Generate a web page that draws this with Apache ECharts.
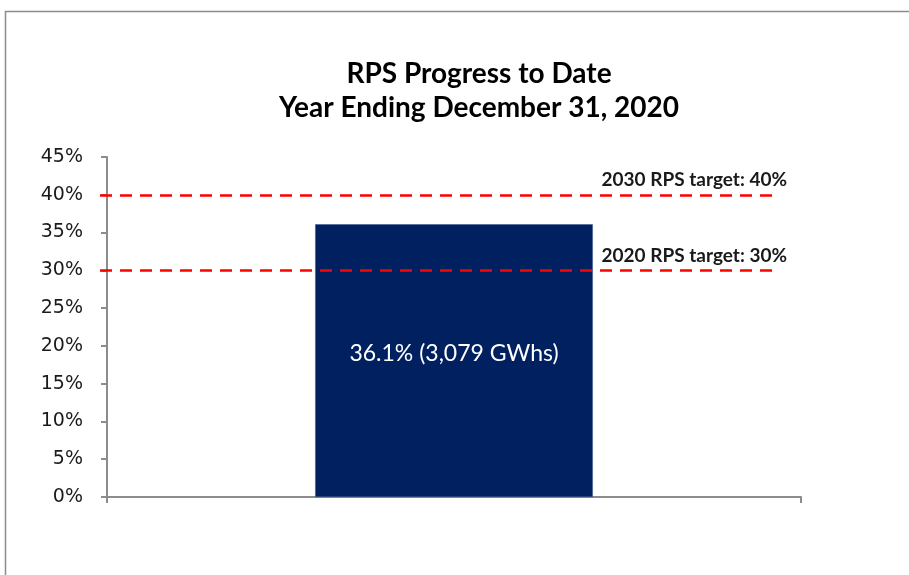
<!DOCTYPE html>
<html>
<head>
<meta charset="utf-8">
<script src="https://cdn.jsdelivr.net/npm/echarts@6/dist/echarts.min.js"></script>
<style>
  html, body { margin: 0; padding: 0; background: #fff; }
  #main { width: 909px; height: 575px; }
</style>
</head>
<body>
<div id="main"></div>
<script>
// data
const categories = ['2020'];
const rpsShare = [36.1];
const barLabels = ['36.1% (3,079 GWhs)'];
const targetValues = [40, 30];
const targetLabels = ['2030 RPS target: 40%', '2020 RPS target: 30%'];
const yTicks = { min: 0, max: 45, interval: 5 };

const titleFont = 'Lato, "Open Sans", sans-serif';
const tickFont = '"DejaVu Sans", Verdana, sans-serif';

let myChart = echarts.init(document.getElementById('main'));

let targetLines = targetValues.map(function (v, i) {
    return [
        { yAxis: v, x: 100 },
        {
            yAxis: v, x: 779,
            label: {
                show: true,
                position: 'insideEndTop',
                formatter: targetLabels[i],
                color: '#1a1a1a',
                fontFamily: titleFont,
                fontWeight: 'bold',
                fontSize: 19,
                distance: [-8, 5]
            }
        }
    ];
});

var option = {
    animation: false,
    backgroundColor: '#fff',
    title: {
        text: 'RPS Progress to Date\nYear Ending December 31, 2020',
        left: 474,
        top: 52,
        textAlign: 'center',
        textStyle: {
            fontFamily: titleFont,
            fontWeight: 'bold',
            fontSize: 28,
            lineHeight: 34,
            color: '#000'
        }
    },
    graphic: [{
        type: 'rect',
        shape: { x: 5.5, y: 11.5, width: 1000, height: 1000 },
        style: { fill: 'none', stroke: '#8c8c8c', lineWidth: 1.5 },
        silent: true
    }],
    grid: { left: 107, right: 108, top: 157, bottom: 78 },
    xAxis: {
        type: 'category',
        data: categories,
        axisLine: { show: true, lineStyle: { color: '#8c8c8c', width: 2 } },
        axisTick: { show: true, length: 6, lineStyle: { color: '#8c8c8c', width: 2 } },
        axisLabel: { show: false }
    },
    yAxis: {
        type: 'value',
        min: yTicks.min,
        max: yTicks.max,
        interval: yTicks.interval,
        axisLine: { show: true, lineStyle: { color: '#8c8c8c', width: 2 } },
        axisTick: { show: true, length: 6, lineStyle: { color: '#8c8c8c', width: 2 } },
        splitLine: { show: false },
        axisLabel: {
            formatter: '{value}%',
            color: '#1a1a1a',
            fontFamily: tickFont,
            fontSize: 19,
            margin: 24
        }
    },
    series: [{
        name: 'RPS',
        type: 'bar',
        data: rpsShare,
        barWidth: '40%',
        itemStyle: { color: '#002060', borderColor: '#3a4f8a', borderWidth: 0.5 },
        label: {
            show: true,
            position: 'inside',
            formatter: function (p) { return barLabels[p.dataIndex]; },
            color: '#fff',
            fontFamily: titleFont,
            fontSize: 23,
            offset: [0, -7]
        },
        markLine: {
            silent: true,
            symbol: 'none',
            lineStyle: { color: '#ff0000', type: [12, 8], width: 2.5 },
            data: targetLines
        }
    }]
};
myChart.setOption(option);
window.addEventListener('resize', function () {
    myChart.resize();
});
</script>
</body>
</html>
